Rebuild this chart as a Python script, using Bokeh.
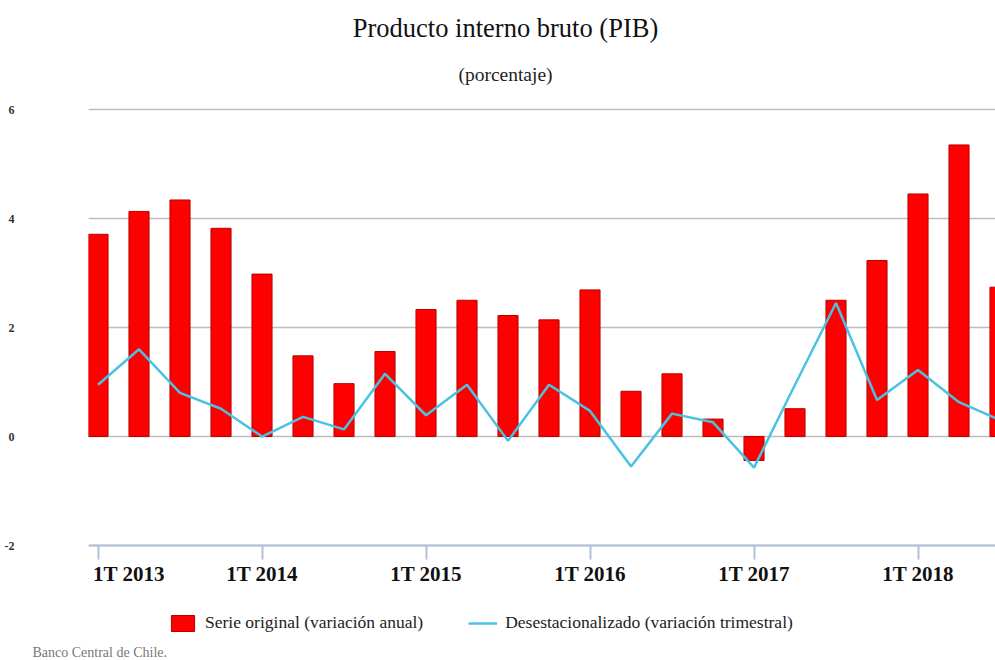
from bokeh.plotting import figure
from bokeh.models import ColumnDataSource, FixedTicker, Range1d, Legend, LegendItem, Label, Title
from bokeh.embed import file_html
from bokeh.resources import INLINE

quarters = [
    "1T 2013", "2T 2013", "3T 2013", "4T 2013",
    "1T 2014", "2T 2014", "3T 2014", "4T 2014",
    "1T 2015", "2T 2015", "3T 2015", "4T 2015",
    "1T 2016", "2T 2016", "3T 2016", "4T 2016",
    "1T 2017", "2T 2017", "3T 2017", "4T 2017",
    "1T 2018", "2T 2018", "3T 2018",
]
serie_original = [3.71, 4.13, 4.34, 3.82, 2.98, 1.48, 0.97, 1.56,
                  2.33, 2.50, 2.22, 2.14, 2.69, 0.83, 1.15, 0.32,
                  -0.44, 0.51, 2.50, 3.23, 4.45, 5.35, 2.74]
desestacionalizado = [0.95, 1.60, 0.80, 0.51, 0.00, 0.36, 0.13, 1.15,
                      0.39, 0.95, -0.08, 0.95, 0.47, -0.55, 0.42, 0.26,
                      -0.57, 0.95, 2.45, 0.67, 1.22, 0.63, 0.30]
y_ticks = [-2, 0, 2, 4, 6]
y_tick_labels = ["-2", "0", "2", "4", "6"]

title_text = "Producto interno bruto (PIB)"
subtitle_text = "(porcentaje)"
source_text = "Banco Central de Chile."
legend_labels = ["Serie original (variación anual)", "Desestacionalizado (variación trimestral)"]

SERIF = "Liberation Serif"
FRAME_BOTTOM = 643  # canvas pixel row of the frame's lower edge

x = list(range(len(quarters)))
src = ColumnDataSource(dict(x=x, bar=serie_original, line=desestacionalizado, q=quarters))

p = figure(width=995, height=660, output_backend="svg", toolbar_location=None,
           x_range=Range1d(-0.232, 21.89), y_range=Range1d(-3.798, 8.0),
           min_border_left=88, min_border_right=0, min_border_top=0, min_border_bottom=17)
p.outline_line_color = None
p.background_fill_color = "white"
p.border_fill_color = "white"

bars = p.vbar(x="x", top="bar", bottom=0, width=0.49, source=src,
              fill_color="#FF0000", line_color="#B80000", line_width=1)
line = p.line(x="x", y="line", source=src, line_color="#4AC2E2", line_width=2.5)

# grid
p.xgrid.visible = False
p.ygrid.ticker = FixedTicker(ticks=y_ticks)
p.ygrid.grid_line_color = "#BDBDBD"
p.ygrid.grid_line_width = 1.5

# y axis
p.yaxis.ticker = FixedTicker(ticks=y_ticks)
p.yaxis.major_label_overrides = dict(zip(y_ticks, y_tick_labels))
p.yaxis.axis_line_color = None
p.yaxis.major_tick_line_color = None
p.yaxis.minor_tick_line_color = None
p.yaxis.major_label_standoff = 68
p.yaxis.major_label_text_font = SERIF
p.yaxis.major_label_text_font_size = "12px"
p.yaxis.major_label_text_font_style = "bold"
p.yaxis.major_label_text_color = "#333333"

# x axis, drawn at y = -2
tick_idx = [i for i, q in enumerate(quarters) if q.startswith("1T")]
overrides = {i: quarters[i] for i in tick_idx}
overrides[tick_idx[0]] = ""
xa = p.xaxis[0]
xa.fixed_location = -2
xa.ticker = FixedTicker(ticks=tick_idx)
xa.major_label_overrides = overrides
xa.axis_line_color = "#AFC0D8"
xa.axis_line_width = 2
xa.major_tick_line_color = "#AFC0D8"
xa.major_tick_line_width = 2
xa.major_tick_in = 0
xa.major_tick_out = 14
xa.minor_tick_line_color = None
xa.major_label_standoff = 2
xa.major_label_text_font = SERIF
xa.major_label_text_font_size = "21px"
xa.major_label_text_font_style = "bold"
xa.major_label_text_color = "#111111"

# first tick label, left-aligned at its tick like the reference
p.add_layout(Label(x=tick_idx[0], y=FRAME_BOTTOM - 561, y_units="screen", x_offset=-5,
                   text=quarters[tick_idx[0]],
                   text_align="left", text_baseline="top",
                   text_font=SERIF, text_font_size="21px", text_font_style="bold",
                   text_color="#111111"))

# titles
p.add_layout(Label(x=417, y=FRAME_BOTTOM - 27, x_units="screen", y_units="screen", text=title_text,
                   text_align="center", text_baseline="middle",
                   text_font=SERIF, text_font_size="26.5px", text_color="#111111"))
p.add_layout(Label(x=417, y=FRAME_BOTTOM - 74, x_units="screen", y_units="screen", text=subtitle_text,
                   text_align="center", text_baseline="middle",
                   text_font=SERIF, text_font_size="19.5px", text_color="#222222"))

footer = Title(text=source_text, align="left", vertical_align="middle", offset=-56, standoff=0,
               text_font=SERIF, text_font_size="14px", text_font_style="normal",
               text_color="#777777")
p.add_layout(footer, "below")

legend = Legend(items=[LegendItem(label=legend_labels[0], renderers=[bars]),
                       LegendItem(label=legend_labels[1], renderers=[line])],
                location=(80, FRAME_BOTTOM - 613 - 20), orientation="horizontal",
                glyph_width=29, glyph_height=20, label_height=20, label_standoff=8,
                spacing=45, padding=0, margin=0,
                border_line_color=None, background_fill_alpha=0,
                label_text_font=SERIF, label_text_font_size="17.5px", label_text_color="#222222")
p.add_layout(legend)

open("out.html", "w").write(file_html(p, INLINE))
